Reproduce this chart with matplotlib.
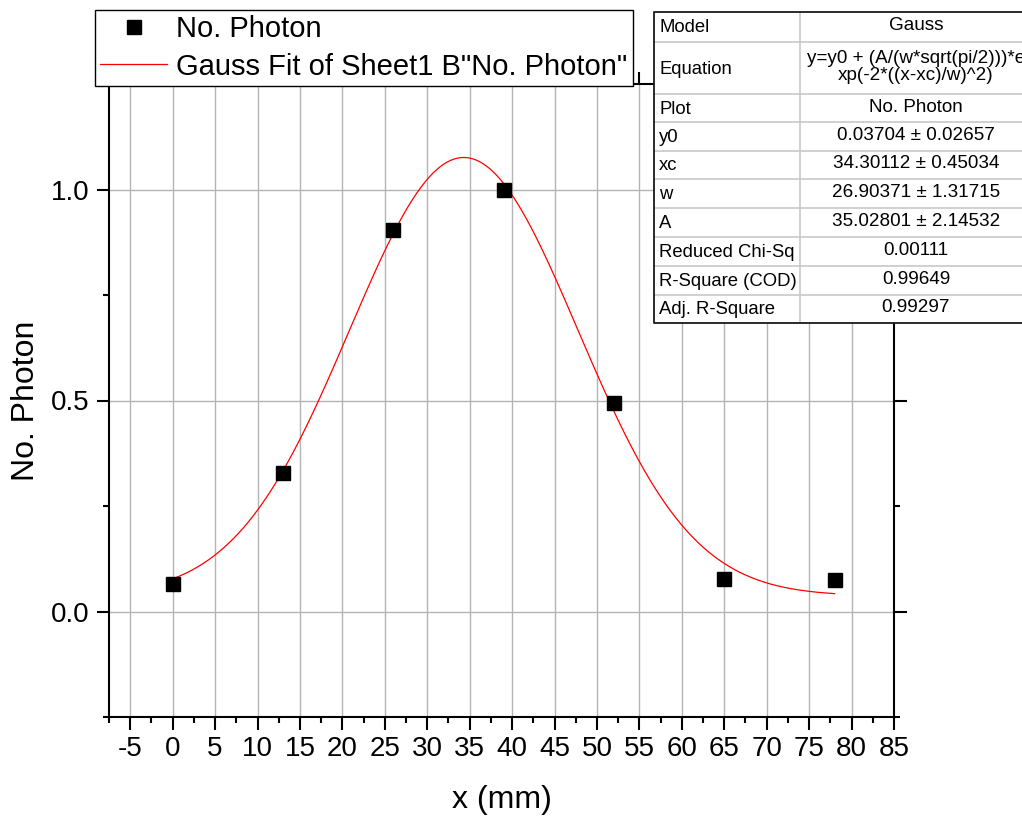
import matplotlib
matplotlib.use('Agg')
import matplotlib.pyplot as plt
import matplotlib.ticker as mticker
from matplotlib.lines import Line2D
from matplotlib.patches import Rectangle
import numpy as np

plt.rcParams['font.family'] = ['Liberation Sans', 'DejaVu Sans']
plt.rcParams['axes.unicode_minus'] = False

# measured points
x_mm = [0, 13, 26, 39, 52, 65, 78]
photon = [0.065, 0.329, 0.905, 1.0, 0.495, 0.076, 0.075]

# gauss fit parameters (from the fit table)
y0, xc, w, A = 0.03704, 34.30112, 26.90371, 35.02801

table_rows = ['Model', 'Equation', 'Plot', 'y0', 'xc', 'w', 'A',
              'Reduced Chi-Sq', 'R-Square (COD)', 'Adj. R-Square']
table_vals = ['Gauss',
              'y=y0 + (A/(w*sqrt(pi/2)))*e\nxp(-2*((x-xc)/w)^2)',
              'No. Photon',
              '0.03704 \u00b1 0.02657',
              '34.30112 \u00b1 0.45034',
              '26.90371 \u00b1 1.31715',
              '35.02801 \u00b1 2.14532',
              '0.00111', '0.99649', '0.99297']

W, H = 1022, 816
fig = plt.figure(figsize=(W/100, H/100), dpi=100)
ax = fig.add_axes([109/W, 1-717/H, (894-109)/W, (717-84)/H])

xf = np.linspace(min(x_mm), max(x_mm), 300)
yf = y0 + (A/(w*np.sqrt(np.pi/2)))*np.exp(-2*((xf-xc)/w)**2)

ax.plot(xf, yf, '-', color='red', lw=0.9, zorder=3)
ax.plot(x_mm, photon, 's', color='black', ms=9.5, zorder=4)

ax.set_xlim(-7.5, 85)
ax.set_ylim(-0.25, 1.25)
ax.xaxis.set_major_locator(mticker.MultipleLocator(5))
ax.xaxis.set_minor_locator(mticker.MultipleLocator(2.5))
ax.yaxis.set_major_locator(mticker.FixedLocator([0, 0.5, 1.0]))
ax.yaxis.set_minor_locator(mticker.MultipleLocator(0.25))
ax.yaxis.set_major_formatter(mticker.FormatStrFormatter('%.1f'))
ax.grid(True, which='major', color='#b4b4b4', lw=1.0)
ax.set_axisbelow(True)
for s in ax.spines.values():
    s.set_linewidth(1.5)
ax.tick_params(which='both', direction='out', top=True, right=True, width=1.5, labelsize=20)
ax.tick_params(which='major', length=9, pad=5)
ax.tick_params(which='minor', length=4.5)
ax.set_xlabel('x (mm)', fontsize=23, labelpad=16)
ax.set_ylabel('No. Photon', fontsize=23, labelpad=7)

# legend
h1 = Line2D([], [], ls='none', marker='s', color='black', ms=9.5)
h2 = Line2D([], [], color='red', lw=0.9)
leg = fig.legend([h1, h2], ['No. Photon', 'Gauss Fit of Sheet1 B"No. Photon"'],
                 loc='upper left', bbox_to_anchor=(95/W, 1-10/H), fontsize=21,
                 frameon=True, fancybox=False, edgecolor='black', framealpha=1,
                 handlelength=2.3, handletextpad=0.3, borderpad=0.18,
                 labelspacing=0.32, borderaxespad=0)
leg.get_frame().set_linewidth(1.0)

# fit table
def fx(px):
    return px/W

def fy(py):
    return 1-py/H

rows_y = [12, 42, 94, 122, 151, 179, 208, 237, 266, 295, 323]
tl, tm, tr = 654, 800, 1040
fig.add_artist(Rectangle((fx(tl), fy(rows_y[-1])), fx(tr-tl), (rows_y[-1]-rows_y[0])/H,
                         transform=fig.transFigure, facecolor='white', edgecolor='none', zorder=10))
for yy in rows_y[1:-1]:
    fig.add_artist(Line2D([fx(tl), fx(tr)], [fy(yy), fy(yy)], transform=fig.transFigure,
                          color='#c8c8c8', lw=1.2, zorder=11))
fig.add_artist(Line2D([fx(tm), fx(tm)], [fy(rows_y[0]), fy(rows_y[-1])], transform=fig.transFigure,
                      color='#c8c8c8', lw=1.2, zorder=11))
fig.add_artist(Line2D([fx(tr), fx(tl), fx(tl), fx(tr)],
                      [fy(rows_y[0]), fy(rows_y[0]), fy(rows_y[-1]), fy(rows_y[-1])],
                      transform=fig.transFigure, color='#1a1a1a', lw=1.3, zorder=12))
for i, (name, val) in enumerate(zip(table_rows, table_vals)):
    yc = (rows_y[i] + rows_y[i+1])/2
    fig.text(fx(tl+5), fy(yc+1), name, ha='left', va='center', fontsize=13.3, zorder=13)
    fig.text(fx(916), fy(yc-1), val, ha='center', va='center', fontsize=13.6,
             multialignment='center', linespacing=1.0, zorder=13)

fig.savefig('out.png', dpi=100)
